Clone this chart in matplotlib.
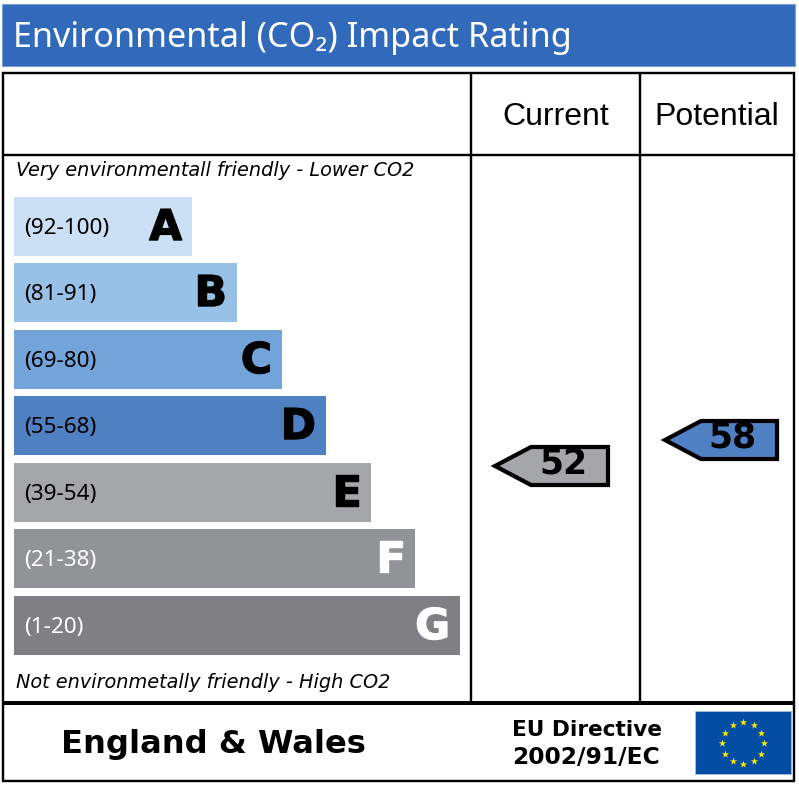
import numpy as np
import matplotlib
matplotlib.use("Agg")
import matplotlib.pyplot as plt
import matplotlib.patheffects as pe
from matplotlib.patches import Rectangle, Polygon

# rating bands, top to bottom
bands = ["(92-100)", "(81-91)", "(69-80)", "(55-68)", "(39-54)", "(21-38)", "(1-20)"]
letters = ["A", "B", "C", "D", "E", "F", "G"]
bar_ends = [192, 237, 282, 326, 371, 415, 460]
bar_tops = [197, 263, 330, 396, 463, 529, 596]
bar_colors = ["#cbe0f4", "#97c1e7", "#72a3d9", "#4f81c2", "#a5a6aa", "#929396", "#807f84"]
text_colors = ["black", "black", "black", "black", "black", "white", "white"]

columns = ["Current", "Potential"]
scores = [52, 58]
score_colors = ["#a5a6aa", "#4f81c2"]
score_tips = [495, 665]
score_ends = [608, 777]
score_y = [466, 440]

FONT = "Noto Sans"
BOLD = "DejaVu Sans"

fig = plt.figure(figsize=(7.99, 7.86), dpi=100)
ax = fig.add_axes([0, 0, 1, 1])
ax.set_xlim(0, 799)
ax.set_ylim(786, 0)
ax.axis("off")


def line(x0, y0, x1, y1, lw=2.4):
    ax.plot([x0, x1], [y0, y1], color="black", lw=lw * 0.72, solid_capstyle="butt")


# title banner
ax.add_patch(Rectangle((2, 4), 793, 62, facecolor="#3169bb", edgecolor="#7c9fd3", lw=0.8))
ax.text(13, 38, "Environmental (CO₂) Impact Rating", color="white", fontsize=24.6,
        family=FONT, va="center", ha="left")

# frame of the table
ax.add_patch(Rectangle((3, 73), 791, 708, facecolor="none", edgecolor="black", lw=2.4 * 0.72))
line(3, 155, 794, 155)
line(471, 73, 471, 702)
line(640, 73, 640, 702)
line(3, 703, 794, 703, lw=4)

for i, name in enumerate(columns):
    ax.text([556, 717][i], 117, name, fontsize=23, family="Liberation Sans", ha="center", va="center")

ax.text(16, 171, "Very environmentall friendly - Lower CO2", fontsize=13.9, style="italic",
        family="DejaVu Sans", va="center")
ax.text(16, 683, "Not environmetally friendly - High CO2", fontsize=13.9, style="italic",
        family="DejaVu Sans", va="center")

# bars
ax.barh(bar_tops, np.array(bar_ends) - 14, left=14, height=58.5, align="edge", color=bar_colors)
for i in range(len(bands)):
    mid = bar_tops[i] + 29.5
    ax.text(24, mid + 2, bands[i], fontsize=16.2, family=FONT, color=text_colors[i], va="center")
    t = ax.text(bar_ends[i] - 10, mid + 1.5, letters[i], fontsize=30.5, weight="bold", family=BOLD,
                color=text_colors[i], va="center", ha="right")
    t.set_path_effects([pe.withStroke(linewidth=1.0, foreground=text_colors[i])])

# current / potential arrows
for i in range(len(scores)):
    y = score_y[i]
    tip = score_tips[i]
    end = score_ends[i]
    ax.add_patch(Polygon([(tip, y), (tip + 36, y - 19), (end, y - 19), (end, y + 19), (tip + 36, y + 19)],
                         closed=True, facecolor=score_colors[i], edgecolor="black", lw=4.2 * 0.72,
                         joinstyle="miter"))
    ax.text(end - 45, y - 2, str(scores[i]), fontsize=25, weight="bold", family=BOLD,
            ha="center", va="center")

# footer
ax.text(213, 745, "England & Wales", fontsize=23.1, weight="bold", family=BOLD, ha="center", va="center")
ax.text(512, 730, "EU Directive", fontsize=15.6, weight="bold", family=BOLD, va="center")
ax.text(512, 758, "2002/91/EC", fontsize=16.8, weight="bold", family=BOLD, va="center")

# EU flag
ax.add_patch(Rectangle((695, 711), 96, 63, facecolor="#034ea2", edgecolor="#9fbde0", lw=0.7))
angles = np.deg2rad(np.arange(0, 360, 30))
ax.scatter(743 + 21 * np.sin(angles), 743 - 21 * np.cos(angles), marker="*", s=30,
           color="#ffed00", linewidths=0, zorder=3)

fig.savefig("out.png", dpi=100)
